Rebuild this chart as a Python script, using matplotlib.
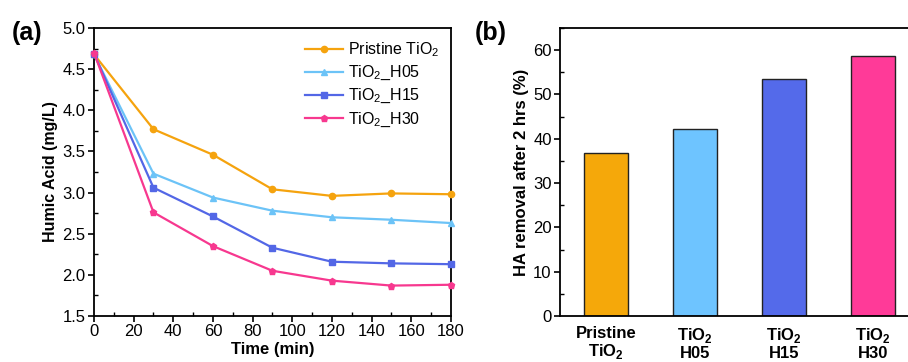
import matplotlib
matplotlib.use("Agg")
import matplotlib.pyplot as plt
from matplotlib.ticker import MultipleLocator

plt.rcParams['font.family'] = ['Liberation Sans', 'DejaVu Sans']
plt.rcParams['mathtext.fontset'] = 'custom'
plt.rcParams['mathtext.rm'] = 'Liberation Sans'
plt.rcParams['mathtext.bf'] = 'Liberation Sans:bold'

# panel (a): humic acid concentration vs time
time_min = [0, 30, 60, 90, 120, 150, 180]
ha_pristine = [4.68, 3.77, 3.46, 3.04, 2.96, 2.99, 2.98]
ha_h05 = [4.68, 3.23, 2.94, 2.78, 2.70, 2.67, 2.63]
ha_h15 = [4.69, 3.06, 2.71, 2.33, 2.16, 2.14, 2.13]
ha_h30 = [4.70, 2.76, 2.35, 2.05, 1.93, 1.87, 1.88]
line_labels = ["Pristine TiO$_2$", "TiO$_2$_H05", "TiO$_2$_H15", "TiO$_2$_H30"]

# panel (b): removal after 2 hrs
bar_labels = ["Pristine\nTiO$_\\mathbf{2}$", "TiO$_\\mathbf{2}$\nH05", "TiO$_\\mathbf{2}$\nH15", "TiO$_\\mathbf{2}$\nH30"]
removal = [36.7, 42.3, 53.6, 58.7]

line_colors = ["#F5A30E", "#6CC3F7", "#5367E6", "#F7388F"]
bar_colors = ["#F5A80A", "#6EC4FF", "#546AEA", "#FF3A98"]
markers = ["o", "^", "s", "p"]

fig = plt.figure(figsize=(9.08, 3.62), dpi=100)
ax1 = fig.add_axes([0.1035, 0.127, 0.393, 0.7956])
ax2 = fig.add_axes([0.6167, 0.127, 0.3937, 0.7956])

for ys, c, m, lab in zip([ha_pristine, ha_h05, ha_h15, ha_h30], line_colors, markers, line_labels):
    ax1.plot(time_min, ys, color=c, marker=m, markersize=4.5, linewidth=1.6,
             label=lab, clip_on=False, zorder=3)

ax1.set_xlim(0, 180)
ax1.set_ylim(1.5, 5.0)
ax1.xaxis.set_major_locator(MultipleLocator(20))
ax1.xaxis.set_minor_locator(MultipleLocator(10))
ax1.yaxis.set_major_locator(MultipleLocator(0.5))
ax1.yaxis.set_minor_locator(MultipleLocator(0.25))
ax1.set_xlabel("Time (min)", fontsize=12, fontweight='bold', labelpad=2)
ax1.set_ylabel("Humic Acid (mg/L)", fontsize=11.5, fontweight='bold', labelpad=3)
ax1.legend(loc='upper right', frameon=False, fontsize=11.5, handlelength=2.4,
           handletextpad=0.3, labelspacing=0.3, borderaxespad=0.3,
           bbox_to_anchor=(1.0, 0.995))

ax2.bar(range(len(removal)), removal, width=0.5, color=bar_colors,
        edgecolor='#222222', linewidth=1.0)
ax2.set_xlim(-0.52, 3.5)
ax2.set_ylim(0, 65)
ax2.yaxis.set_major_locator(MultipleLocator(10))
ax2.yaxis.set_minor_locator(MultipleLocator(5))
ax2.set_xticks(range(len(removal)))
ax2.set_xticklabels(bar_labels, fontsize=10, fontweight='bold', linespacing=1.1)
ax2.set_ylabel("HA removal after 2 hrs (%)", fontsize=12, fontweight='bold', labelpad=3)

for ax in (ax1, ax2):
    for s in ax.spines.values():
        s.set_linewidth(1.3)
    ax.tick_params(which='major', direction='out', length=4, width=1.2, labelsize=12, pad=2)
    ax.tick_params(which='minor', direction='in', length=3, width=1.0)
ax2.tick_params(axis='x', which='both', length=0, pad=7)

fig.text(0.013, 0.89, "(a)", fontsize=18, fontweight='bold')
fig.text(0.523, 0.89, "(b)", fontsize=18, fontweight='bold')

fig.savefig("out.png", dpi=100)
